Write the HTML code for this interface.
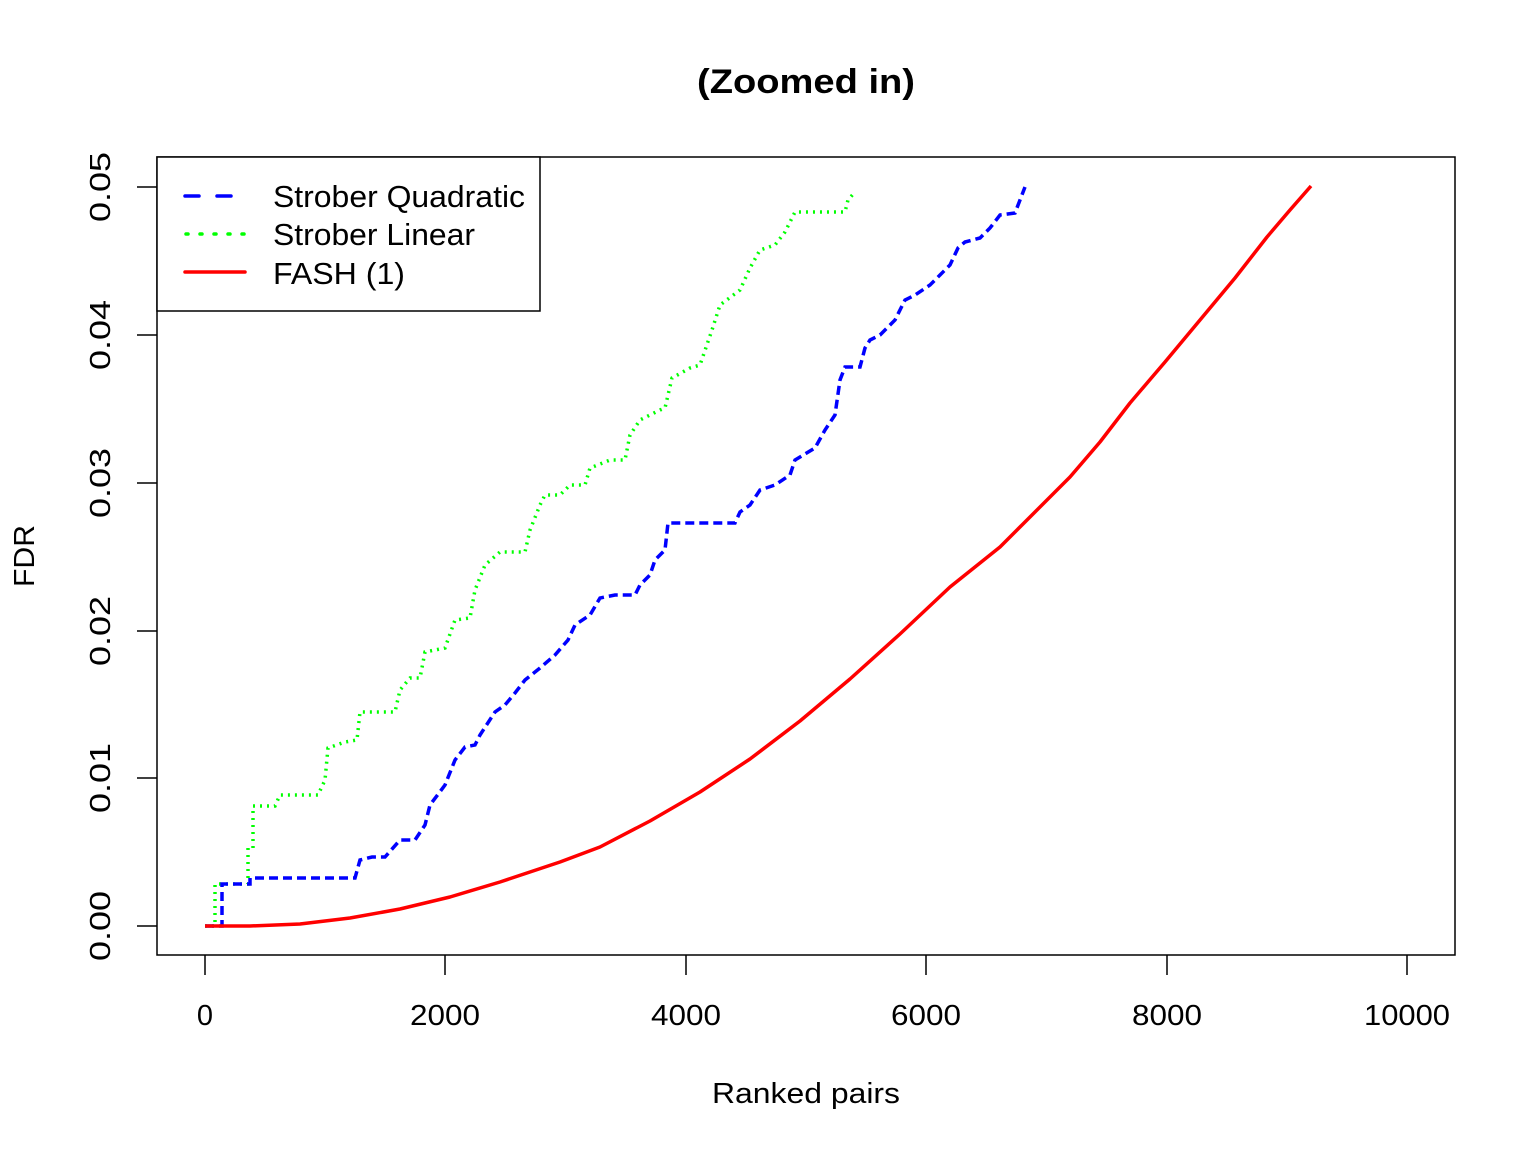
<!DOCTYPE html>
<html><head><meta charset="utf-8"><style>
html,body{margin:0;padding:0;background:#fff;}
svg{display:block;}
text{font-family:"Liberation Sans",Arial,sans-serif;fill:#000;}
</style></head><body>
<svg width="1536" height="1152" viewBox="0 0 1536 1152" xmlns="http://www.w3.org/2000/svg">
<rect width="1536" height="1152" fill="#fff"/>
<text x="806" y="93" font-size="34" font-weight="bold" text-anchor="middle" textLength="218" lengthAdjust="spacingAndGlyphs">(Zoomed in)</text>
<rect x="157" y="157" width="1298" height="798" fill="none" stroke="#000" stroke-width="1.5"/>
<g stroke="#000" stroke-width="1.5" fill="none">
<line x1="205" y1="955" x2="205" y2="975"/>
<line x1="445" y1="955" x2="445" y2="975"/>
<line x1="686" y1="955" x2="686" y2="975"/>
<line x1="926" y1="955" x2="926" y2="975"/>
<line x1="1167" y1="955" x2="1167" y2="975"/>
<line x1="1407" y1="955" x2="1407" y2="975"/>
<line x1="157" y1="187" x2="137" y2="187"/>
<line x1="157" y1="335" x2="137" y2="335"/>
<line x1="157" y1="483" x2="137" y2="483"/>
<line x1="157" y1="631" x2="137" y2="631"/>
<line x1="157" y1="778" x2="137" y2="778"/>
<line x1="157" y1="926" x2="137" y2="926"/>
</g>
<g font-size="29" text-anchor="middle">
<text x="205" y="1025">0</text>
<text x="445" y="1025" textLength="70" lengthAdjust="spacingAndGlyphs">2000</text>
<text x="686" y="1025" textLength="70" lengthAdjust="spacingAndGlyphs">4000</text>
<text x="926" y="1025" textLength="70" lengthAdjust="spacingAndGlyphs">6000</text>
<text x="1167" y="1025" textLength="70" lengthAdjust="spacingAndGlyphs">8000</text>
<text x="1407" y="1025" textLength="86" lengthAdjust="spacingAndGlyphs">10000</text>
<text x="806" y="1103" textLength="188" lengthAdjust="spacingAndGlyphs">Ranked pairs</text>
<text transform="translate(110,187) rotate(-90)" textLength="70" lengthAdjust="spacingAndGlyphs">0.05</text>
<text transform="translate(110,335) rotate(-90)" textLength="70" lengthAdjust="spacingAndGlyphs">0.04</text>
<text transform="translate(110,483) rotate(-90)" textLength="70" lengthAdjust="spacingAndGlyphs">0.03</text>
<text transform="translate(110,631) rotate(-90)" textLength="70" lengthAdjust="spacingAndGlyphs">0.02</text>
<text transform="translate(110,778) rotate(-90)" textLength="70" lengthAdjust="spacingAndGlyphs">0.01</text>
<text transform="translate(110,926) rotate(-90)" textLength="70" lengthAdjust="spacingAndGlyphs">0.00</text>
<text transform="translate(34,556) rotate(-90)" textLength="62" lengthAdjust="spacingAndGlyphs">FDR</text>
</g>
<polyline fill="none" stroke="#00ff00" stroke-width="3.5" stroke-dasharray="2,5" points="205,926 215,926 215,884 248,884 248,848 253,848 253,806 275,806 280,795 318,795 325,780 328,748 345,742 357,740 360,712 395,712 400,690 410,678 420,678 425,652 445,648 455,620 470,618 475,590 485,565 500,552 525,552 530,530 540,505 545,495 560,495 570,485 585,485 590,468 610,460 625,460 630,435 640,420 660,410 665,408 672,378 690,368 700,365 712,330 720,305 740,290 750,268 760,250 775,245 785,232 795,212 820,212 845,212 848,200 855,192"/>
<polyline fill="none" stroke="#0000ff" stroke-width="3.5" stroke-dasharray="9,5" points="205,926 222,926 222,884 250,884 250,878 355,878 360,860 372,857 385,857 400,840 415,840 425,825 430,805 445,785 455,760 465,747 475,745 480,735 495,712 505,705 515,693 525,680 540,668 555,655 568,640 575,625 590,615 600,598 615,595 635,595 640,585 650,575 655,560 665,550 668,523 735,523 740,512 750,505 760,490 775,485 790,475 795,460 815,448 825,430 835,415 840,380 845,367 860,367 865,348 870,340 880,335 895,320 905,300 915,295 930,285 940,275 950,265 958,248 965,242 980,238 990,228 1000,215 1015,213 1020,200 1025,187"/>
<polyline fill="none" stroke="#ff0000" stroke-width="3.5" stroke-linejoin="round" points="205,926 250,926 300,924 350,918 400,909 450,897 500,882 560,862 600,847 650,821 700,792 750,759 800,721 850,679 900,634 950,587 1000,547 1035,512 1070,477 1100,442 1130,403 1165,362 1200,320 1235,278 1267,237 1290,210 1311,186"/>
<rect x="157" y="157" width="383" height="154" fill="#fff" stroke="#000" stroke-width="1.5"/>
<line x1="185" y1="196" x2="245" y2="196" stroke="#0000ff" stroke-width="3.5" stroke-dasharray="14,18" stroke-linecap="round"/>
<line x1="186" y1="234" x2="246" y2="234" stroke="#00ff00" stroke-width="3.5" stroke-dasharray="2,12" stroke-linecap="round"/>
<line x1="185" y1="272" x2="245" y2="272" stroke="#ff0000" stroke-width="3.5" stroke-linecap="round"/>
<g font-size="31">
<text x="273" y="207" textLength="252" lengthAdjust="spacingAndGlyphs">Strober Quadratic</text>
<text x="273" y="245" textLength="202" lengthAdjust="spacingAndGlyphs">Strober Linear</text>
<text x="273" y="284" textLength="132" lengthAdjust="spacingAndGlyphs">FASH (1)</text>
</g>
</svg>
</body></html>
